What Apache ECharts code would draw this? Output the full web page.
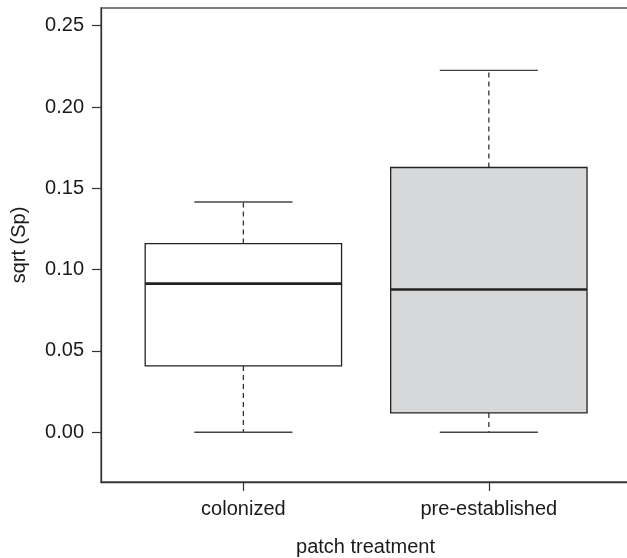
<!DOCTYPE html>
<html>
<head>
<meta charset="utf-8">
<script src="https://cdn.jsdelivr.net/npm/echarts@6/dist/echarts.min.js"></script>
<style>
  html, body { margin: 0; padding: 0; background: #fff; }
  #chart { width: 627px; height: 558px; }
</style>
</head>
<body>
<div id="chart"></div>
<script>
const categories = ["colonized", "pre-established"];
// [lower whisker, Q1, median, Q3, upper whisker]
const boxStats = [
  [0.0, 0.0408, 0.0914, 0.116, 0.1416],
  [0.0, 0.0119, 0.0878, 0.1628, 0.2226],
];
const boxFills = ["#ffffff", "#d7d8da"];
const yTicks = [0, 0.05, 0.1, 0.15, 0.2, 0.25];
const xTicks = [1, 2];

const chart = echarts.init(document.getElementById("chart"));

const boxData = boxStats.map((s, i) => [i + 1].concat(s));

const renderBox = (params, api) => {
  const x = api.value(0);
  const lo = api.coord([x, api.value(1)]);
  const q1 = api.coord([x, api.value(2)]);
  const med = api.coord([x, api.value(3)]);
  const q3 = api.coord([x, api.value(4)]);
  const hi = api.coord([x, api.value(5)]);
  const boxL = api.coord([x - 0.4, 0])[0];
  const boxR = api.coord([x + 0.4, 0])[0];
  const capL = api.coord([x - 0.2, 0])[0];
  const capR = api.coord([x + 0.2, 0])[0];
  const cx = lo[0];
  const dashed = { stroke: "#333", lineWidth: 1.3, lineDash: [5, 4] };
  const solid = { stroke: "#444", lineWidth: 1.3 };
  return {
    type: "group",
    children: [
      { type: "line", shape: { x1: cx, y1: q3[1], x2: cx, y2: hi[1] }, style: dashed },
      { type: "line", shape: { x1: cx, y1: q1[1], x2: cx, y2: lo[1] }, style: dashed },
      { type: "line", shape: { x1: capL, y1: hi[1], x2: capR, y2: hi[1] }, style: solid },
      { type: "line", shape: { x1: capL, y1: lo[1], x2: capR, y2: lo[1] }, style: solid },
      {
        type: "rect",
        shape: { x: boxL, y: q3[1], width: boxR - boxL, height: q1[1] - q3[1] },
        style: { fill: boxFills[params.dataIndex], stroke: "#222", lineWidth: 1.3 },
      },
      { type: "line", shape: { x1: boxL, y1: med[1], x2: boxR, y2: med[1] }, style: { stroke: "#222", lineWidth: 2.6 } },
    ],
  };
};

const labelFont = { fontFamily: "Liberation Sans, Arial, sans-serif", fontSize: 20, color: "#1a1a1a" };

chart.setOption({
  animation: false,
  grid: {
    left: 101,
    top: 8,
    right: -3,
    bottom: 76,
    outerBoundsMode: "none",
    containLabel: false,
    show: true,
    borderColor: "#555",
    borderWidth: 1.3,
  },
  xAxis: {
    type: "value",
    min: 0.42,
    max: 2.575,
    name: "patch treatment",
    nameLocation: "middle",
    nameGap: 55,
    nameTextStyle: labelFont,
    splitLine: { show: false },
    axisLine: { show: true, onZero: false, lineStyle: { color: "#333", width: 1.3 } },
    axisTick: { show: true, length: 9, customValues: xTicks, lineStyle: { color: "#333", width: 1.2 } },
    axisLabel: Object.assign({
      customValues: xTicks,
      margin: 17,
      formatter: (v) => categories[Math.round(v) - 1] || "",
    }, labelFont),
  },
  yAxis: {
    type: "value",
    min: -0.0306,
    max: 0.2609,
    name: "sqrt (Sp)",
    nameLocation: "middle",
    nameGap: 72,
    nameTextStyle: labelFont,
    splitLine: { show: false },
    axisLine: { show: true, onZero: false, lineStyle: { color: "#333", width: 1.3 } },
    axisTick: { show: true, length: 9, customValues: yTicks, lineStyle: { color: "#333", width: 1.2 } },
    axisLabel: Object.assign({
      customValues: yTicks,
      margin: 17,
      formatter: (v) => v.toFixed(2),
    }, labelFont),
  },
  series: [
    {
      type: "custom",
      renderItem: renderBox,
      encode: { x: 0, y: [1, 2, 3, 4, 5] },
      data: boxData,
    },
  ],
});
</script>
</body>
</html>
